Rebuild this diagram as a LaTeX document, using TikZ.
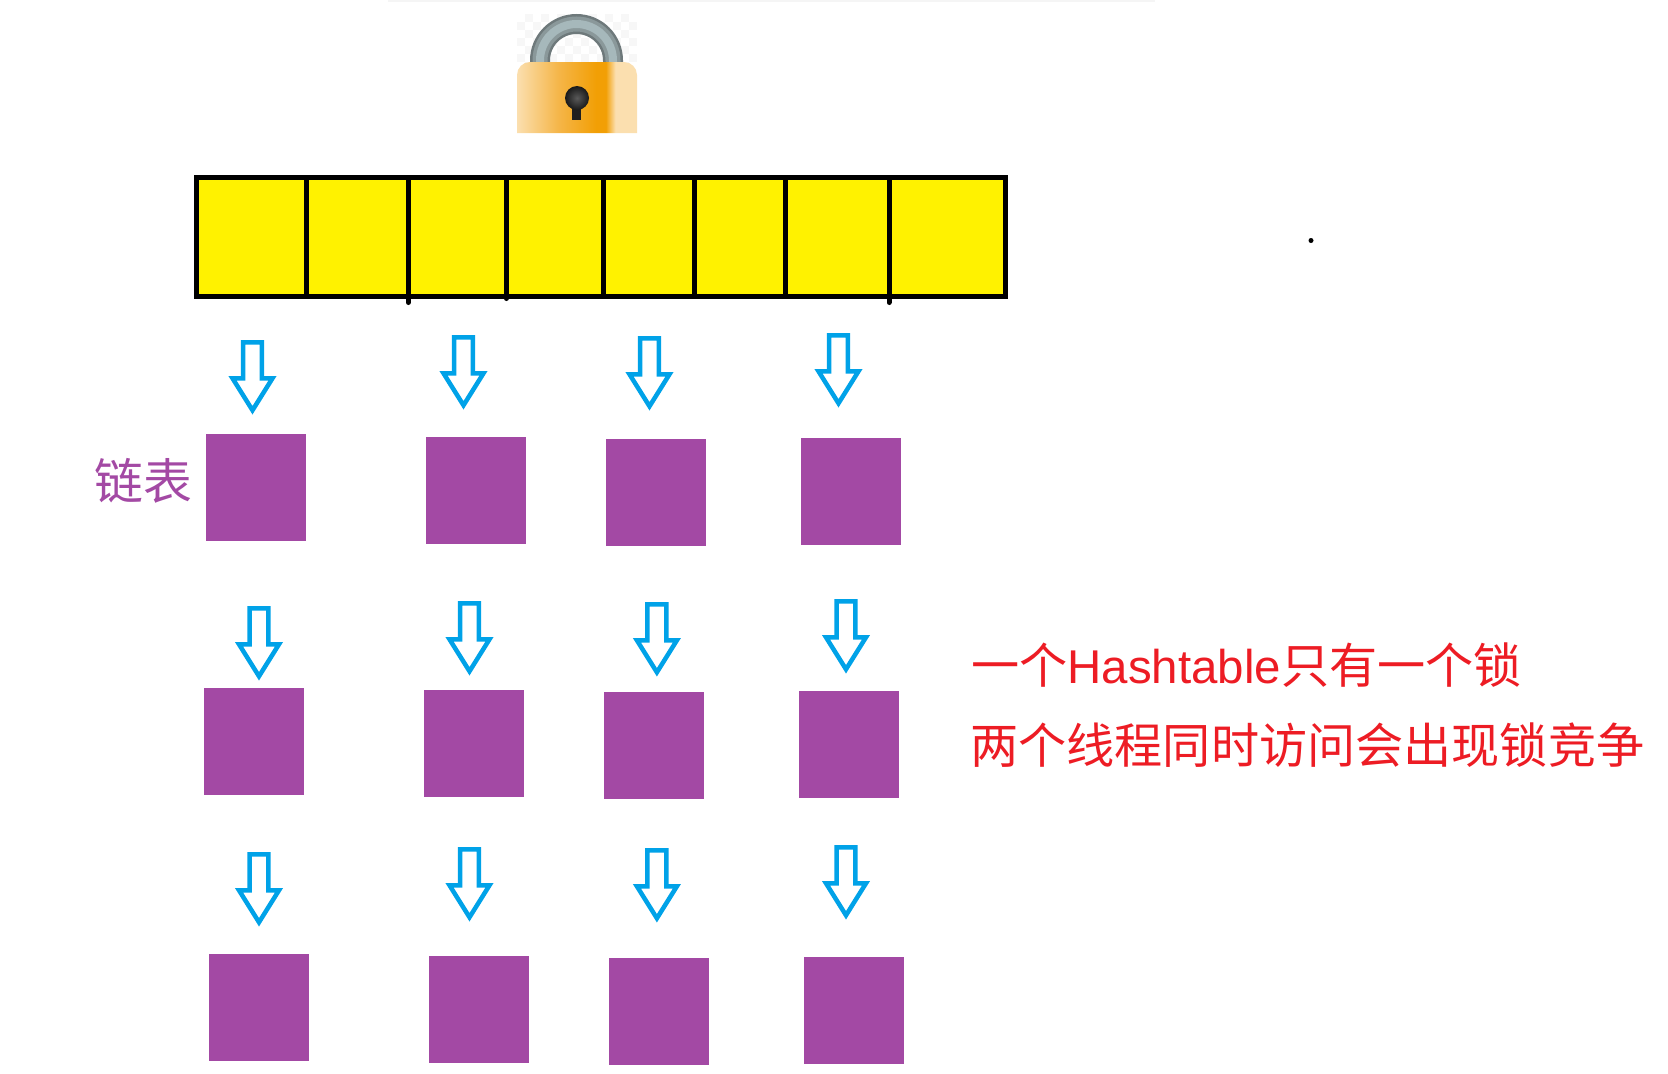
\documentclass[tikz,border=0pt]{standalone}
\usepackage{fontspec}
\setmainfont{Noto Sans CJK SC}
\newfontfamily\latinfont[Scale=0.985]{Liberation Sans}
\usetikzlibrary{shapes.arrows, positioning, calc}

\definecolor{barfill}{HTML}{FFF200}
\definecolor{nodefill}{HTML}{A349A4}
\definecolor{arrowline}{HTML}{00A2E8}
\definecolor{notered}{HTML}{ED1C24}
\definecolor{lockpale}{HTML}{FBDFAF}
\definecolor{lockmid}{HTML}{F5B64A}
\definecolor{lockorange}{HTML}{F29F05}
\definecolor{shackledark}{HTML}{6E797B}
\definecolor{shacklemid}{HTML}{8A989A}
\definecolor{shacklelight}{HTML}{A6B8BB}
\pgfdeclarehorizontalshading{lockbody}{100bp}{
    color(0bp)=(lockpale); color(25bp)=(lockpale);
    color(42bp)=(lockmid); color(58bp)=(lockorange); color(62bp)=(lockorange);
    color(66bp)=(lockpale); color(75bp)=(lockpale); color(100bp)=(lockpale)}
\def\px{0.02cm}

\begin{document}
\begin{tikzpicture}[
    x=0.02cm, y=-0.02cm,
    cell/.style={rectangle, draw=black, line width=5*\px, fill=barfill, minimum height=119*\px, anchor=west, outer sep=0pt, inner sep=0pt},
    listnode/.style={rectangle, fill=nodefill, minimum width=100*\px, minimum height=107*\px, outer sep=0pt, inner sep=0pt},
    downarrow/.style={single arrow, draw=arrowline, line width=4.5*\px, fill=white, shape border rotate=270, minimum width=40*\px, minimum height=68*\px, single arrow head extend=2.5*\px, single arrow tip angle=64, inner sep=0pt, outer sep=0pt},
    note/.style={text=notered, font=\fontsize{27.4}{32}\selectfont, anchor=west, inner sep=0pt},
    shackle/.style={line width=#1*\px}
]
\useasboundingbox (0,0) rectangle (1668,1073);

% faint strip on the top edge
\fill[black!4] (388,0) rectangle (1155,2);

% LOCK
\fill[black!3] (517,14) rectangle (637,70);
\foreach \i in {0,...,14} {
    \foreach \j in {0,...,6} {
        \pgfmathparse{int(mod(\i+\j,2))}
        \ifnum\pgfmathresult=0
            \fill[white] (517+8*\i,14+8*\j) rectangle (525+8*\i,22+8*\j);
        \fi
    }
}
\draw[shackle=20, draw=shackledark] (540,70) -- (540,60.5) arc[start angle=180, end angle=360, radius=36.5] -- (613,70);
\draw[shackle=15, draw=shacklemid] (540,70) -- (540,60.5) arc[start angle=180, end angle=360, radius=36.5] -- (613,70);
\draw[shackle=8, draw=shacklelight] (540,70) -- (540,60.5) arc[start angle=180, end angle=360, radius=36.5] -- (613,70);
\shade[shading=lockbody] (517,133) [rounded corners=13*\px] -- (517,62) -- (637,62) [sharp corners] -- (637,133) -- cycle;
\fill[black!88] (572,100) rectangle (581,120);
\shade[inner color=black!65, outer color=black!90] (577,98) circle[radius=12];

% HASH TABLE BAR
\node[cell, minimum width=109.8*\px] (cell1) at (196.5,237) {};
\node[cell, minimum width=102*\px] (cell2) at (306.3,237) {};
\node[cell, minimum width=98*\px] (cell3) at (408.3,237) {};
\node[cell, minimum width=96.7*\px] (cell4) at (506.3,237) {};
\node[cell, minimum width=91*\px] (cell5) at (603,237) {};
\node[cell, minimum width=91*\px] (cell6) at (694,237) {};
\node[cell, minimum width=104*\px] (cell7) at (785,237) {};
\node[cell, minimum width=116*\px] (cell8) at (889,237) {};
\draw[line width=5*\px, line cap=round] (cell3.south west) -- ++(0,6);
\draw[line width=5*\px, line cap=round] (cell4.south west) -- ++(0,2);
\draw[line width=5*\px, line cap=round] (cell8.south west) -- ++(0,6);
\fill (1311,240.5) circle[radius=2.5];

% LIST ROW 1
\node[downarrow] (arrow11) at (252.5,368.7) {};
\node[downarrow] (arrow12) at (463.5,363.7) {};
\node[downarrow] (arrow13) at (649.5,364.7) {};
\node[downarrow] (arrow14) at (838.5,361.7) {};
\node[listnode] (node11) at (256.4,487.6) {};
\node[listnode] (node12) at (476.4,490.5) {};
\node[listnode] (node13) at (656.4,492.7) {};
\node[listnode] (node14) at (851,491.5) {};

% LIST ROW 2
\node[downarrow] (arrow21) at (259,634.7) {};
\node[downarrow] (arrow22) at (469.5,629.7) {};
\node[downarrow] (arrow23) at (656.9,630.7) {};
\node[downarrow] (arrow24) at (846,627.7) {};
\node[listnode] (node21) at (254.3,741) {};
\node[listnode] (node22) at (474.3,743.5) {};
\node[listnode] (node23) at (654.3,745.7) {};
\node[listnode] (node24) at (849,744.7) {};

% LIST ROW 3
\node[downarrow] (arrow31) at (259,880.7) {};
\node[downarrow] (arrow32) at (469.5,875.7) {};
\node[downarrow] (arrow33) at (656.9,876.7) {};
\node[downarrow] (arrow34) at (846,873.7) {};
\node[listnode] (node31) at (259.3,1007) {};
\node[listnode] (node32) at (479.3,1009.7) {};
\node[listnode] (node33) at (659.3,1011.7) {};
\node[listnode] (node34) at (854,1010.7) {};

% LABELS
\node[note, text=nodefill, anchor=east, font=\fontsize{27.8}{32}\selectfont] (listlabel) at (193,481) {链表};
\node[note] (note1) at (971,665.5) {一个{\latinfont Hashtable}只有一个锁};
\node[note] (note2) at (970,745) {两个线程同时访问会出现锁竞争};

\end{tikzpicture}
\end{document}
